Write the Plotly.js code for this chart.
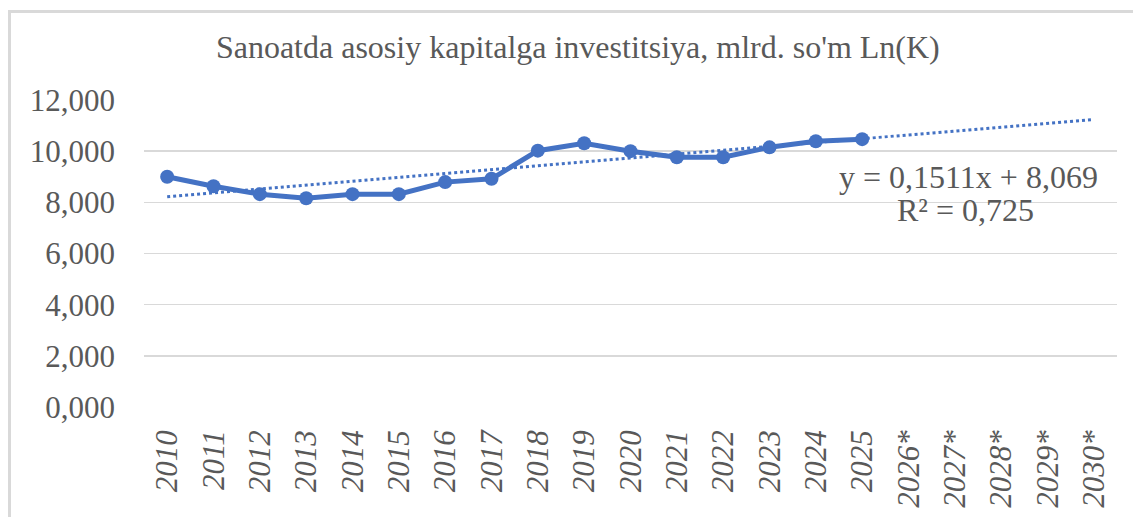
<!DOCTYPE html>
<html>
<head>
<meta charset="utf-8">
<script src="https://cdn.plot.ly/plotly-3.0.1.min.js"></script>
<style>
  html, body { margin: 0; padding: 0; background: #fff; }
  #wrap { position: relative; width: 1133px; height: 517px; overflow: hidden; }
  #chart { width: 1133px; height: 517px; }
  #frame { position: absolute; left: 8px; top: 10px; width: 1140px; height: 520px;
           border-top: 3px solid #d9d9d9; border-left: 3px solid #d9d9d9; pointer-events: none; }
</style>
</head>
<body>
<div id="wrap">
  <div id="chart"></div>
  <div id="frame"></div>
</div>
<script>
// Categories (years, * = forecast)
const years = ["2010","2011","2012","2013","2014","2015","2016","2017","2018","2019",
               "2020","2021","2022","2023","2024","2025","2026*","2027*","2028*","2029*","2030*"];
// Ln(K) values (2010-2025)
const lnK = [9.00, 8.63, 8.32, 8.16, 8.32, 8.32, 8.79, 8.92, 10.02, 10.31,
             10.00, 9.76, 9.76, 10.15, 10.39, 10.47];
// Linear trendline endpoints as drawn (2010 and 2030*)
const trendX = ["2010", "2030*"];
const trendY = [8.22, 11.24];
// Y tick values / labels
const yTickVals = [0, 2, 4, 6, 8, 10, 12];
const yTickText = ["0,000", "2,000", "4,000", "6,000", "8,000", "10,000", "12,000"];
const titleText = "Sanoatda asosiy kapitalga investitsiya, mlrd. so'm Ln(K)";
const eqLine1 = "y = 0,1511x + 8,069";
const eqLine2 = "R² = 0,725";

const blue = "#4472C4";
const grey = "#595959";
const serif = "Liberation Serif";

const traces = [
  {
    x: trendX, y: trendY, type: "scatter", mode: "lines",
    line: { color: blue, width: 3, dash: "dot" },
    hoverinfo: "skip", showlegend: false
  },
  {
    x: years.slice(0, lnK.length), y: lnK, type: "scatter", mode: "lines+markers",
    line: { color: blue, width: 5 },
    marker: { color: blue, size: 14 },
    showlegend: false
  }
];

const layout = {
  width: 1133, height: 517,
  margin: { l: 144, r: 16, t: 100, b: 110 },
  paper_bgcolor: "#ffffff", plot_bgcolor: "#ffffff",
  font: { family: serif, color: grey, size: 30 },
  title: {
    text: titleText,
    font: { family: serif, size: 32, color: grey },
    x: 0.51, xref: "container", xanchor: "center",
    y: 0.91, yref: "container", yanchor: "middle"
  },
  xaxis: {
    type: "category",
    categoryorder: "array", categoryarray: years,
    range: [-0.5, years.length - 0.5],
    tickangle: -90,
    tickfont: { family: serif, size: 31, color: grey, style: "italic" },
    showgrid: false, zeroline: false, showline: false,
    ticks: "", ticklabelstandoff: 16
  },
  yaxis: {
    range: [0, 12],
    tickvals: yTickVals, ticktext: yTickText,
    tickfont: { family: serif, size: 31, color: grey },
    showgrid: true, gridcolor: "#d9d9d9", gridwidth: 1.5,
    zeroline: false, showline: false,
    ticks: "", ticklabelstandoff: 28
  },
  annotations: [
    { text: eqLine1, xref: "paper", yref: "y", x: 0.847, y: 9.0,
      showarrow: false, xanchor: "center", yanchor: "middle",
      font: { family: serif, size: 32, color: grey } },
    { text: eqLine2, xref: "paper", yref: "y", x: 0.844, y: 7.7,
      showarrow: false, xanchor: "center", yanchor: "middle",
      font: { family: serif, size: 32, color: grey } }
  ]
};

Plotly.newPlot("chart", traces, layout, { displayModeBar: false, staticPlot: true });
</script>
</body>
</html>
